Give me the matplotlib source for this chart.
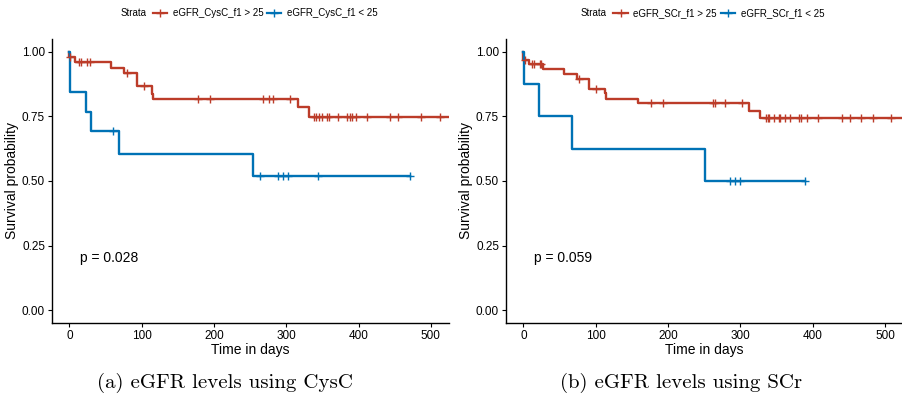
import matplotlib.pyplot as plt
from matplotlib.lines import Line2D
import numpy as np

plt.rcParams['font.family'] = ['Liberation Sans', 'DejaVu Sans']

# --- Donnees (temps en jours, probabilite de survie) ---
# (a) CysC
cysc_hi_t = [0, 0, 8, 57, 75, 93, 113.6, 116, 316, 331]
cysc_hi_s = [1.0, 0.981, 0.962, 0.939, 0.917, 0.866, 0.837, 0.817, 0.786, 0.748]
cysc_hi_cens = [1, 14, 16, 24.5, 28, 80, 103, 178, 195, 268, 276, 282, 305,
                338, 340.5, 345, 350, 357, 359, 372, 384, 388, 390.5, 396,
                411, 443, 455, 487, 513]
cysc_hi_end = 530

cysc_lo_t = [0, 1, 23, 29.5, 69, 253.5]
cysc_lo_s = [1.0, 0.846, 0.769, 0.692, 0.606, 0.519]
cysc_lo_cens = [61, 263, 288.5, 295.5, 302, 344, 471]
cysc_lo_end = 471

# (b) SCr
scr_hi_t = [0, 0, 7.3, 27.6, 55.6, 74, 91, 112.7, 114, 158, 312.6, 327.8]
scr_hi_s = [1.0, 0.969, 0.952, 0.933, 0.915, 0.895, 0.858, 0.840, 0.819,
            0.801, 0.773, 0.743]
scr_hi_cens = [2, 12, 14, 23, 25, 77, 100, 176, 193, 262, 265, 279, 302,
               336, 338, 340, 347, 354, 355, 362, 369, 381, 384, 392, 408,
               440, 452, 467, 483, 509]
scr_hi_end = 530

scr_lo_t = [0, 1, 22, 67, 250.6]
scr_lo_s = [1.0, 0.875, 0.75, 0.625, 0.5]
scr_lo_cens = [286, 293, 300, 389]
scr_lo_end = 389

ROUGE = "#BC3C29"
BLEU = "#0072B5"


def courbe(ax, t, s, cens, fin, couleur):
    tt = list(t) + [fin]
    ss = list(s) + [s[-1]]
    ax.step(tt, ss, where="post", color=couleur, lw=1.7, zorder=3)
    # position des censures sur la courbe
    idx = np.searchsorted(t, cens, side="right") - 1
    ax.plot(cens, np.array(s)[idx], linestyle="none", marker="+",
            markersize=6, markeredgewidth=1.0, color=couleur, zorder=4)


def panneau(ax, hi, lo, pval):
    courbe(ax, *hi, ROUGE)
    courbe(ax, *lo, BLEU)
    ax.set_xlim(-24, 525)
    ax.set_ylim(-0.05, 1.05)
    ax.set_xticks([0, 100, 200, 300, 400, 500])
    ax.set_yticks([0, 0.25, 0.5, 0.75, 1.0])
    ax.set_yticklabels(["0.00", "0.25", "0.50", "0.75", "1.00"])
    ax.spines["top"].set_visible(False)
    ax.spines["right"].set_visible(False)
    for sp in ("left", "bottom"):
        ax.spines[sp].set_linewidth(1.0)
    ax.tick_params(labelsize=8.5, length=3, width=0.8, pad=2)
    ax.set_xlabel("Time in days", fontsize=10, labelpad=1)
    ax.set_ylabel("Survival probability", fontsize=10, labelpad=2)
    ax.text(15, 0.2, "p = " + pval, fontsize=10, va="center")


fig = plt.figure(figsize=(9.03, 4.04), dpi=100)
ax1 = fig.add_axes([0.0576, 0.2005, 0.4396, 0.703])
ax2 = fig.add_axes([0.5604, 0.2005, 0.4396, 0.703])

panneau(ax1, (cysc_hi_t, cysc_hi_s, cysc_hi_cens, cysc_hi_end),
        (cysc_lo_t, cysc_lo_s, cysc_lo_cens, cysc_lo_end), "0.028")
panneau(ax2, (scr_hi_t, scr_hi_s, scr_hi_cens, scr_hi_end),
        (scr_lo_t, scr_lo_s, scr_lo_cens, scr_lo_end), "0.059")

# Legendes en haut
for x0, nom in [(0.133, "CysC"), (0.6434, "SCr")]:
    fig.text(x0, 0.968, "Strata", fontsize=7, va="center")
    poignees = [Line2D([0], [0], color=ROUGE, lw=1.6, marker="+", markersize=6),
                Line2D([0], [0], color=BLEU, lw=1.6, marker="+", markersize=6)]
    fig.legend(poignees, ["eGFR_" + nom + "_f1 > 25", "eGFR_" + nom + "_f1 < 25"],
               loc="center left", bbox_to_anchor=(x0 + 0.036, 0.968), ncol=2,
               frameon=False, fontsize=7, handlelength=1.45, handletextpad=0.6,
               columnspacing=0.4, borderaxespad=0, borderpad=0)

# Sous-titres
fig.text(0.249, 0.052, "(a) eGFR levels using CysC", family="cmr10",
         fontsize=15, ha="center", va="center")
fig.text(0.7545, 0.052, "(b) eGFR levels using SCr", family="cmr10",
         fontsize=15, ha="center", va="center")

plt.savefig("out.png", dpi=100)
